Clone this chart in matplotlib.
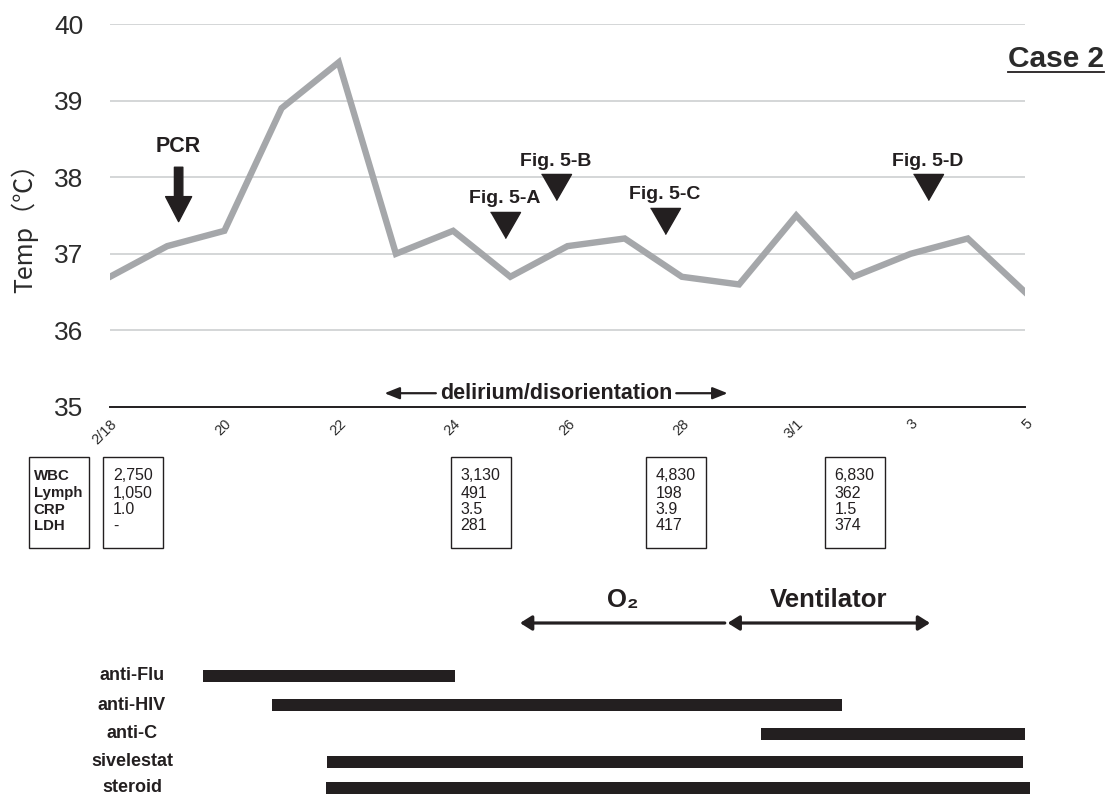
import matplotlib
matplotlib.use('Agg')
import matplotlib.pyplot as plt
from matplotlib.lines import Line2D
from matplotlib.patches import Rectangle
import numpy as np

plt.rcParams['font.family'] = ['Liberation Sans', 'Noto Sans CJK JP', 'DejaVu Sans']

# ---------------- data ----------------
tick_days = [0, 2, 4, 6, 8, 10, 12, 14, 16]
day_labels = ['2/18', '20', '22', '24', '26', '28', '3/1', '3', '5']
temps = [36.7, 37.1, 37.3, 38.9, 39.5, 37.0, 37.3, 36.7, 37.1,
         37.2, 36.7, 36.6, 37.5, 36.7, 37.0, 37.2, 36.5]

pcr_day = 1.2
fig_labels = ['Fig. 5-A', 'Fig. 5-B', 'Fig. 5-C', 'Fig. 5-D']
fig_days = [6.9, 7.8, 9.7, 14.3]

delirium_span = [4.8, 10.8]
o2_span = [7.17, 10.75]
vent_span = [10.8, 14.34]

treatments = ['anti-Flu', 'anti-HIV', 'anti-C', 'sivelestat', 'steroid']
treat_start = [1.62, 2.84, 11.38, 3.80, 3.78]
treat_end = [6.03, 12.8, 16.0, 15.96, 16.08]

lab_names = ['WBC', 'Lymph', 'CRP', 'LDH']
lab_days = [0.40, 6.48, 9.89, 13.02]
lab_values = [['2,750', '1,050', '1.0', '-'],
              ['3,130', '491', '3.5', '281'],
              ['4,830', '198', '3.9', '417'],
              ['6,830', '362', '1.5', '374']]

# ---------------- style ----------------
DARK = '#231f20'
LINE = '#a5a7aa'
GRID = '#d1d3d4'
TXT = '#2b2b2b'

W, H = 1113, 801
fig = plt.figure(figsize=(W / 100, H / 100), dpi=100)
x0, x1 = 110 / W, 1025 / W
ax = fig.add_axes([x0, 1 - 407 / H, x1 - x0, (407 - 24) / H])
ax.set_xlim(0, 16)
ax.set_ylim(35, 40)

days = np.arange(len(temps))
ax.plot(days, temps, color=LINE, lw=4.6, solid_joinstyle='miter', zorder=3)

ax.set_yticks([35, 36, 37, 38, 39, 40])
ax.yaxis.grid(True, color=GRID, lw=1.3)
ax.set_axisbelow(True)
for s in ['top', 'left', 'right']:
    ax.spines[s].set_visible(False)
ax.spines['bottom'].set_color(DARK)
ax.spines['bottom'].set_linewidth(1.4)
ax.tick_params(axis='both', length=0)
ax.tick_params(axis='y', labelsize=19, labelcolor=TXT, pad=19)
ax.set_xticks(tick_days)
ax.set_xticklabels(day_labels, rotation=45, ha='right', rotation_mode='anchor',
                   fontsize=10.5, color=TXT)
ax.tick_params(axis='x', pad=7)

fig.text(25 / W, 1 - 222 / H, 'Temp（℃）', rotation=90, ha='center', va='center',
         fontsize=18, color=TXT, family=['Noto Sans CJK JP', 'DejaVu Sans'])

# Case 2
ct = fig.text(1056 / W, 1 - 59 / H, 'Case 2', ha='center', va='center',
              fontsize=21.5, fontweight='bold', color=TXT)

# PCR arrow
ax.text(pcr_day, 38.4, 'PCR', ha='center', va='center', fontsize=15.5,
        fontweight='bold', color=DARK)
ax.annotate('', xy=(pcr_day, 37.42), xytext=(pcr_day, 38.13),
            arrowprops=dict(arrowstyle='simple,head_width=1.3,head_length=1.25,tail_width=0.42',
                            mutation_scale=14.4, color=DARK, shrinkA=0, shrinkB=0))

# figure markers
tri = [(-1, 0.87), (1, 0.87), (0, -0.87)]
marker_y = [37.38, 37.87, 37.43, 37.87]
for lab, d, my in zip(fig_labels, fig_days, marker_y):
    ax.plot([d], [my], marker=tri, ms=21.6, color=DARK, ls='', zorder=4)
    ax.text(d, my + 0.34, lab, ha='center', va='center', fontsize=14,
            fontweight='bold', color=DARK)

# delirium
dmid = (delirium_span[0] + delirium_span[1]) / 2
dt = ax.text(dmid, 35.18, 'delirium/disorientation', ha='center', va='center',
             fontsize=15.5, fontweight='bold', color=DARK)

# ---------------- lower panel ----------------
ax2 = fig.add_axes([x0, 0, x1 - x0, 1 - 440 / H])
ax2.set_xlim(0, 16)
ax2.set_ylim(801, 440)
ax2.axis('off')

row_y = [676, 705, 734, 762, 788]
ax2.barh(row_y, np.array(treat_end) - np.array(treat_start), left=treat_start,
         height=11.5, color=DARK, clip_on=False)
for name, y in zip(treatments, row_y):
    ax2.text(0.385, y, name, ha='center', va='center', fontsize=13,
             fontweight='bold', color=DARK, clip_on=False)

# O2 / ventilator
arr = dict(mutation_scale=20, color=DARK, lw=2.3, shrinkA=0, shrinkB=0)
ax2.annotate('', xy=(o2_span[0], 623), xytext=(o2_span[1], 623),
             arrowprops=dict(arrowstyle='-|>,head_length=0.35,head_width=0.22', **arr))
ax2.annotate('', xy=(vent_span[0], 623), xytext=(vent_span[1], 623),
             arrowprops=dict(arrowstyle='<|-|>,head_length=0.35,head_width=0.22', **arr))
ax2.text(8.96, 600, 'O₂', ha='center', va='center', fontsize=18.5,
         fontweight='bold', color=DARK)
ax2.text(12.56, 600, 'Ventilator', ha='center', va='center', fontsize=18.5,
         fontweight='bold', color=DARK)

# lab boxes
px_day = 16 / 915.0
bw = 60 * px_day
box_top, box_h = 457, 91
line_y = [476, 493, 509.5, 526]
name_left = lab_days[0] - bw / 2 - 74 * px_day
ax2.add_patch(Rectangle((name_left, box_top), bw, box_h, fill=False, ec=DARK,
                        lw=1.0, clip_on=False))
for n, y in zip(lab_names, line_y):
    ax2.text(name_left + 5 * px_day, y, n, ha='left', va='center', fontsize=10.8,
             fontweight='bold', color=DARK, clip_on=False)
for d, vals in zip(lab_days, lab_values):
    left = d - bw / 2
    ax2.add_patch(Rectangle((left, box_top), bw, box_h, fill=False, ec=DARK,
                            lw=1.0, clip_on=False))
    for v, y in zip(vals, line_y):
        ax2.text(left + 10 * px_day, y, v, ha='left', va='center', fontsize=11.5,
                 color=DARK, clip_on=False)

# ---------- arrows around delirium text & underline for Case 2 ----------
fig.canvas.draw()
r = fig.canvas.get_renderer()
bb = dt.get_window_extent(r)
inv = ax.transData.inverted()
lx = inv.transform((bb.x0 - 4, 0))[0]
rx = inv.transform((bb.x1 + 4, 0))[0]
darr = dict(arrowstyle='-|>,head_length=0.45,head_width=0.18', mutation_scale=20,
            color=DARK, lw=1.6, shrinkA=0, shrinkB=0)
ax.annotate('', xy=(delirium_span[0], 35.18), xytext=(lx, 35.18), arrowprops=darr)
ax.annotate('', xy=(delirium_span[1], 35.18), xytext=(rx, 35.18), arrowprops=darr)

cb = ct.get_window_extent(r)
fx0, fy0 = fig.transFigure.inverted().transform((cb.x0, cb.y0))
fx1, _ = fig.transFigure.inverted().transform((cb.x1, cb.y0))
fig.add_artist(Line2D([fx0, fx1], [fy0 + 1 / H, fy0 + 1 / H], color=DARK, lw=1.3,
                      transform=fig.transFigure))

fig.savefig('out.png', dpi=100)
